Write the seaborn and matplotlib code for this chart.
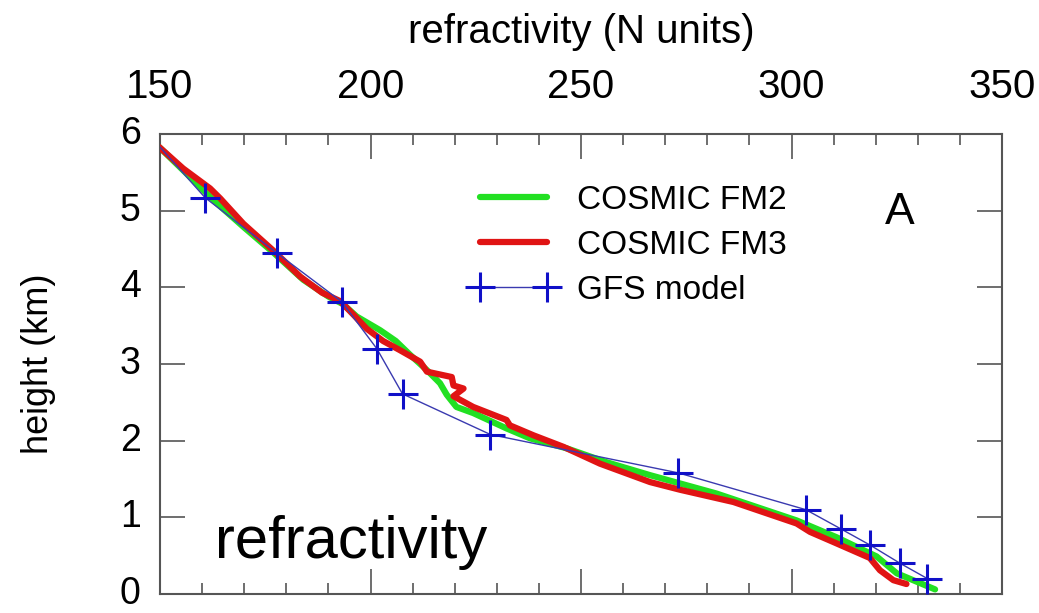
import matplotlib
matplotlib.use("Agg")
import matplotlib.pyplot as plt
import seaborn as sns
import pandas as pd

# COSMIC FM2 profile (refractivity, height km)
fm2_n = [149.8, 156.0, 163.0, 170.0, 177.0, 184.0, 190.0, 193.5, 196.7, 202.3,
         206.0, 209.4, 213.4, 216.5, 218.1, 220.4, 224.4, 232.3, 237.9, 246.6,
         256.0, 266.4, 282.2, 301.2, 310.7, 320.2, 325.0, 334.1]
fm2_h = [5.83, 5.50, 5.12, 4.78, 4.45, 4.10, 3.88, 3.78, 3.62, 3.44,
         3.30, 3.12, 2.92, 2.75, 2.60, 2.44, 2.36, 2.16, 2.03, 1.90,
         1.72, 1.55, 1.31, 0.96, 0.74, 0.49, 0.27, 0.06]

# COSMIC FM3 profile
fm3_n = [149.8, 155.5, 161.9, 164.3, 169.8, 176.9, 183.3, 188.5, 192.8, 196.0,
         199.1, 203.0, 207.0, 211.8, 213.4, 219.3, 219.7, 222.1, 219.7, 224.4,
         232.3, 233.1, 238.7, 245.8, 254.5, 266.4, 273.5, 286.2, 301.2, 304.4,
         310.7, 318.6, 321.0, 324.2, 327.3]
fm3_h = [5.83, 5.55, 5.29, 5.16, 4.83, 4.48, 4.14, 3.93, 3.82, 3.64,
         3.46, 3.30, 3.18, 3.03, 2.90, 2.83, 2.72, 2.68, 2.58, 2.44,
         2.27, 2.20, 2.07, 1.92, 1.70, 1.46, 1.36, 1.20, 0.92, 0.81,
         0.66, 0.47, 0.31, 0.18, 0.13]

# GFS model levels
gfs_n = [150.0, 160.7, 177.7, 193.2, 201.5, 207.6, 228.5, 273.1, 303.4, 311.7,
         318.6, 325.8, 332.3]
gfs_h = [5.83, 5.17, 4.45, 3.81, 3.20, 2.61, 2.08, 1.58, 1.10, 0.85,
         0.64, 0.40, 0.20]

x_ticks = [150, 200, 250, 300, 350]
y_ticks = [0, 1, 2, 3, 4, 5, 6]

sns.set_style("white")
plt.rcParams['font.family'] = ['Liberation Sans', 'DejaVu Sans']
plt.rcParams['text.color'] = 'black'
plt.rcParams['axes.labelcolor'] = 'black'
plt.rcParams['xtick.labelcolor'] = 'black'
plt.rcParams['ytick.labelcolor'] = 'black'

fig = plt.figure(figsize=(10.39, 6.13), dpi=100)
ax = fig.add_axes([0.154, 0.031, 0.8104, 0.7504])

green = "#22e022"
red = "#e01414"
blue = "#1010c8"

sns.lineplot(x=fm2_n, y=fm2_h, sort=False, estimator=None, color=green,
             lw=4.5, label="COSMIC FM2", ax=ax, zorder=2)
sns.lineplot(x=fm3_n, y=fm3_h, sort=False, estimator=None, color=red,
             lw=4.5, label="COSMIC FM3", ax=ax, zorder=3)
sns.lineplot(x=gfs_n, y=gfs_h, sort=False, estimator=None, color="#3a3ab0",
             lw=1.0, marker="+", markersize=22, markeredgewidth=2.2,
             markeredgecolor=blue, markevery=list(range(1, len(gfs_n))),
             label="GFS model", ax=ax, zorder=4)

ax.set_xlim(150, 350)
ax.set_ylim(0, 6)
ax.set_xticks(x_ticks)
ax.set_xticks(range(150, 351, 10), minor=True)
ax.set_yticks(y_ticks)
ax.xaxis.set_label_position('top')
ax.set_xlabel("refractivity (N units)", fontsize=29, labelpad=18)
ax.set_ylabel("height (km)", fontsize=26, labelpad=46)
ax.tick_params(axis='both', which='major', direction='in', length=18, width=1.2,
               color="#555555", top=True, bottom=True, left=True,
               right=True, labeltop=True, labelbottom=False, pad=12)
ax.tick_params(axis='y', which='major', labelsize=27, pad=14)
ax.tick_params(axis='x', which='minor', direction='in', length=8, width=1.2,
               color="#555555", top=True, bottom=True)
ax.tick_params(axis='x', which='major', labelsize=29, pad=20)
for s in ax.spines.values():
    s.set_color("#555555")
    s.set_linewidth(1.5)
for lbl in ax.get_yticklabels():
    lbl.set_verticalalignment('center')

leg = ax.legend(loc='upper left', bbox_to_anchor=(0.368, 0.89), frameon=False,
                fontsize=24, handlelength=2.6, handletextpad=0.6,
                labelspacing=0.42, borderpad=0, borderaxespad=0, numpoints=2)

ax.text(325.8, 4.97, "A", fontsize=32, ha='center', va='center')
ax.text(163, 0.47, "refractivity", fontsize=43, ha='left', va='baseline')

fig.savefig("out.png", dpi=100)
